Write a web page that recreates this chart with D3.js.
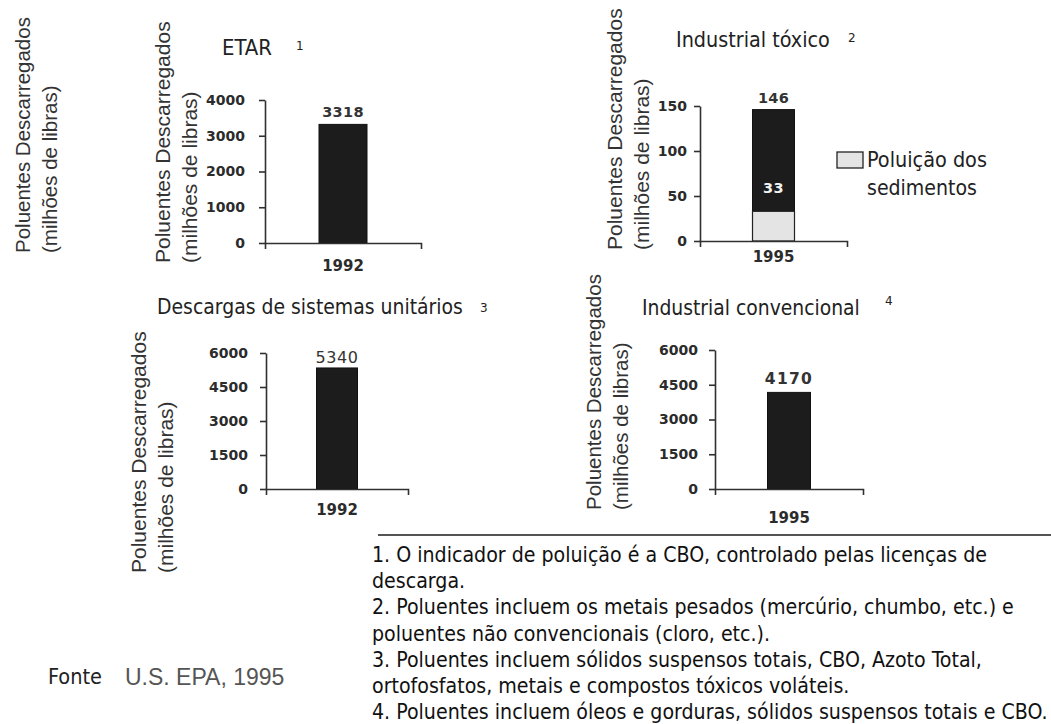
<!DOCTYPE html>
<html lang="pt">
<head>
<meta charset="utf-8">
<script src="https://cdn.jsdelivr.net/npm/d3@7"></script>
<style>
  html, body { margin: 0; padding: 0; background: #fff; }
  svg { display: block; }
</style>
</head>
<body>
<svg id="chart" width="1051" height="724"></svg>
<script>
// ---- Data -------------------------------------------------------------
const etarYears = ["1992"];
const etarValues = [3318];
const etarTicks = [0, 1000, 2000, 3000, 4000];

const toxicYears = ["1995"];
const toxicSediment = [33];
const toxicTotal = [146];
const toxicTicks = [0, 50, 100, 150];

const unitaryYears = ["1992"];
const unitaryValues = [5340];
const unitaryTicks = [0, 1500, 3000, 4500, 6000];

const conventionalYears = ["1995"];
const conventionalValues = [4170];
const conventionalTicks = [0, 1500, 3000, 4500, 6000];

const panelTitles = ["ETAR", "Industrial tóxico", "Descargas de sistemas unitários", "Industrial convencional"];
const noteMarks = ["1", "2", "3", "4"];
const yLabelLines = ["Poluentes Descarregados", "(milhões de libras)"];
const legendLines = ["Poluição dos", "sedimentos"];
const footnotes = [
  "1. O indicador de poluição é a CBO, controlado pelas licenças de",
  "descarga.",
  "2. Poluentes incluem os metais pesados (mercúrio, chumbo, etc.) e",
  "poluentes não convencionais (cloro, etc.).",
  "3. Poluentes incluem sólidos suspensos totais, CBO, Azoto Total,",
  "ortofosfatos, metais e compostos tóxicos voláteis.",
  "4. Poluentes incluem óleos e gorduras, sólidos suspensos totais e CBO."
];
const sourceLabel = "Fonte";
const sourceText = "U.S. EPA, 1995";

// ---- Drawing ----------------------------------------------------------
const svg = d3.select("#chart");
const SANS = "'DejaVu Sans', Verdana, sans-serif";
const NARROW = "'DejaVu Sans Condensed', 'DejaVu Sans', Verdana, sans-serif";
const ARIAL = "'Liberation Sans', Arial, sans-serif";
const INK = "#222";
const fmt = d3.format("d");

// Scale a text's font size so that it spans the given width.
function fitWidth(sel, width) {
  const base = parseFloat(sel.style("font-size"));
  const w = sel.node().getComputedTextLength();
  sel.style("font-size", (base * width / w).toFixed(2) + "px");
  return sel;
}

function yLabel(x, bottom, size) {
  const g = svg.append("g").attr("fill", "#333")
    .style("font-family", ARIAL).style("font-size", size + "px");
  yLabelLines.forEach((line, i) => {
    g.append("text")
      .attr("transform", `translate(${x + i * 27},${bottom}) rotate(-90)`)
      .attr("text-anchor", "start")
      .text(line);
  });
}

function title(text, mark, x, y, width, markX, markY) {
  const t = svg.append("text").attr("x", x).attr("y", y)
    .attr("fill", INK).style("font-family", NARROW).style("font-size", "19px")
    .text(text);
  fitWidth(t, width);
  svg.append("text").attr("x", markX).attr("y", markY)
    .attr("fill", INK).style("font-family", SANS).style("font-size", "12px")
    .text(mark);
}

function bandFor(domain, x0, x1, barWidth) {
  const f = barWidth / (x1 - x0);
  return d3.scaleBand().domain(domain).range([x0, x1]).padding((1 - f) / (1 + f));
}

function axes(x, y, ticks, y0, xPad, yPad) {
  const ya = svg.append("g").attr("transform", `translate(${x.range()[0]},0)`)
    .call(d3.axisLeft(y).tickValues(ticks).tickFormat(fmt)
      .tickSize(6).tickSizeOuter(0).tickPadding(yPad));
  const xa = svg.append("g").attr("transform", `translate(0,${y0})`)
    .call(d3.axisBottom(x).tickSizeInner(0).tickSizeOuter(6).tickPadding(xPad));
  [ya, xa].forEach(a => {
    a.selectAll("path, line").attr("stroke", "#303030").attr("stroke-width", 1.6);
    a.selectAll("text").attr("fill", "#2b2b2b")
      .style("font-family", SANS).style("font-weight", "bold");
  });
  ya.selectAll("text").style("font-size", "14px");
  xa.selectAll("text").style("font-size", "15px");
}

function valueLabel(x, y, text, size, weight, spacing, color) {
  return svg.append("text").attr("x", x).attr("y", y)
    .attr("text-anchor", "middle").attr("fill", color || "#333")
    .style("font-family", SANS).style("font-size", size + "px")
    .style("font-weight", weight).style("letter-spacing", spacing + "px")
    .text(text);
}

// Outer axis title at the far left
yLabel(30, 253, 20.5);

// Panel 1: ETAR
{
  const x = bandFor(etarYears, 265, 421, 48);
  const y = d3.scaleLinear().domain([0, 4000]).range([243, 100]);
  svg.selectAll(".bar1").data(etarValues).enter().append("rect")
    .attr("x", (d, i) => x(etarYears[i])).attr("width", x.bandwidth())
    .attr("y", d => y(d)).attr("height", d => y(0) - y(d))
    .attr("fill", "#1c1c1c").attr("stroke", "#111");
  axes(x, y, etarTicks, 243, 17, 14);
  etarValues.forEach((v, i) =>
    valueLabel(x(etarYears[i]) + x.bandwidth() / 2, y(v) - 7, v, 14.5, "bold", 0.3));
  yLabel(170, 263, 21);
  title(panelTitles[0], noteMarks[0], 222, 55, 50, 296, 50);
}

// Panel 2: Industrial tóxico (stacked)
{
  const x = bandFor(toxicYears, 700, 847, 42);
  const y = d3.scaleLinear().domain([0, 150]).range([241, 106]);
  toxicYears.forEach((yr, i) => {
    svg.append("rect").attr("x", x(yr)).attr("width", x.bandwidth())
      .attr("y", y(toxicTotal[i])).attr("height", y(toxicSediment[i]) - y(toxicTotal[i]))
      .attr("fill", "#1c1c1c").attr("stroke", "#111");
    svg.append("rect").attr("x", x(yr)).attr("width", x.bandwidth())
      .attr("y", y(toxicSediment[i])).attr("height", y(0) - y(toxicSediment[i]))
      .attr("fill", "#e4e4e4").attr("stroke", "#222").attr("stroke-width", 1.2);
    const cx = x(yr) + x.bandwidth() / 2;
    valueLabel(cx, y(toxicTotal[i]) - 7, toxicTotal[i], 14.5, "bold", 0.3);
    valueLabel(cx, y(toxicSediment[i]) - 18, toxicSediment[i], 14.5, "bold", 0.3, "#f2f2f2");
  });
  axes(x, y, toxicTicks, 241, 10, 7);
  yLabel(622, 250, 21);
  title(panelTitles[1], noteMarks[1], 676, 47, 154, 848, 42);

  // legend
  svg.append("rect").attr("x", 837).attr("y", 152).attr("width", 26).attr("height", 16)
    .attr("fill", "#e4e4e4").attr("stroke", "#222").attr("stroke-width", 1.3);
  const legendWidths = [120, 110];
  legendLines.forEach((t, i) => {
    const lt = svg.append("text").attr("x", 867).attr("y", 167 + i * 28)
      .attr("fill", INK).style("font-family", NARROW).style("font-size", "19px").text(t);
    fitWidth(lt, legendWidths[i]);
  });
}

// Panel 3: Descargas de sistemas unitários
{
  const x = bandFor(unitaryYears, 266, 408, 41);
  const y = d3.scaleLinear().domain([0, 6000]).range([489, 353]);
  svg.selectAll(".bar3").data(unitaryValues).enter().append("rect")
    .attr("x", (d, i) => x(unitaryYears[i])).attr("width", x.bandwidth())
    .attr("y", d => y(d)).attr("height", d => y(0) - y(d))
    .attr("fill", "#1c1c1c").attr("stroke", "#111");
  axes(x, y, unitaryTicks, 489, 15, 12);
  unitaryValues.forEach((v, i) =>
    valueLabel(x(unitaryYears[i]) + x.bandwidth() / 2, y(v) - 5, v, 16, "normal", 0.6));
  yLabel(146, 573, 21);
  title(panelTitles[2], noteMarks[2], 157, 314, 306, 480, 312);
}

// Panel 4: Industrial convencional
{
  const x = bandFor(conventionalYears, 715, 863, 43);
  const y = d3.scaleLinear().domain([0, 6000]).range([489, 350]);
  svg.selectAll(".bar4").data(conventionalValues).enter().append("rect")
    .attr("x", (d, i) => x(conventionalYears[i])).attr("width", x.bandwidth())
    .attr("y", d => y(d)).attr("height", d => y(0) - y(d))
    .attr("fill", "#1c1c1c").attr("stroke", "#111");
  axes(x, y, conventionalTicks, 489, 23, 11);
  conventionalValues.forEach((v, i) =>
    valueLabel(x(conventionalYears[i]) + x.bandwidth() / 2, y(v) - 8, v, 15.5, "bold", 1.3));
  yLabel(601, 510, 20.5);
  title(panelTitles[3], noteMarks[3], 642, 315, 218, 885, 305);
}

// Footnotes
svg.append("line").attr("x1", 378).attr("x2", 1051).attr("y1", 535).attr("y2", 535)
  .attr("stroke", "#555").attr("stroke-width", 2);
const notes = svg.append("g").attr("fill", "#111").style("font-family", NARROW).style("font-size", "16px");
const noteNodes = footnotes.map((t, i) =>
  notes.append("text").attr("x", 372).attr("y", 562 + i * 26.2).text(t));
const widest = noteNodes[noteNodes.length - 1].node().getComputedTextLength();
notes.style("font-size", (16 * 676 / widest).toFixed(2) + "px");

// Source
const src = svg.append("text").attr("x", 48).attr("y", 684).attr("fill", INK)
  .style("font-family", NARROW).style("font-size", "18.5px").text(sourceLabel);
fitWidth(src, 54);
svg.append("text").attr("x", 125).attr("y", 685).attr("fill", "#555")
  .style("font-family", ARIAL).style("font-size", "23px").text(sourceText);
</script>
</body>
</html>
